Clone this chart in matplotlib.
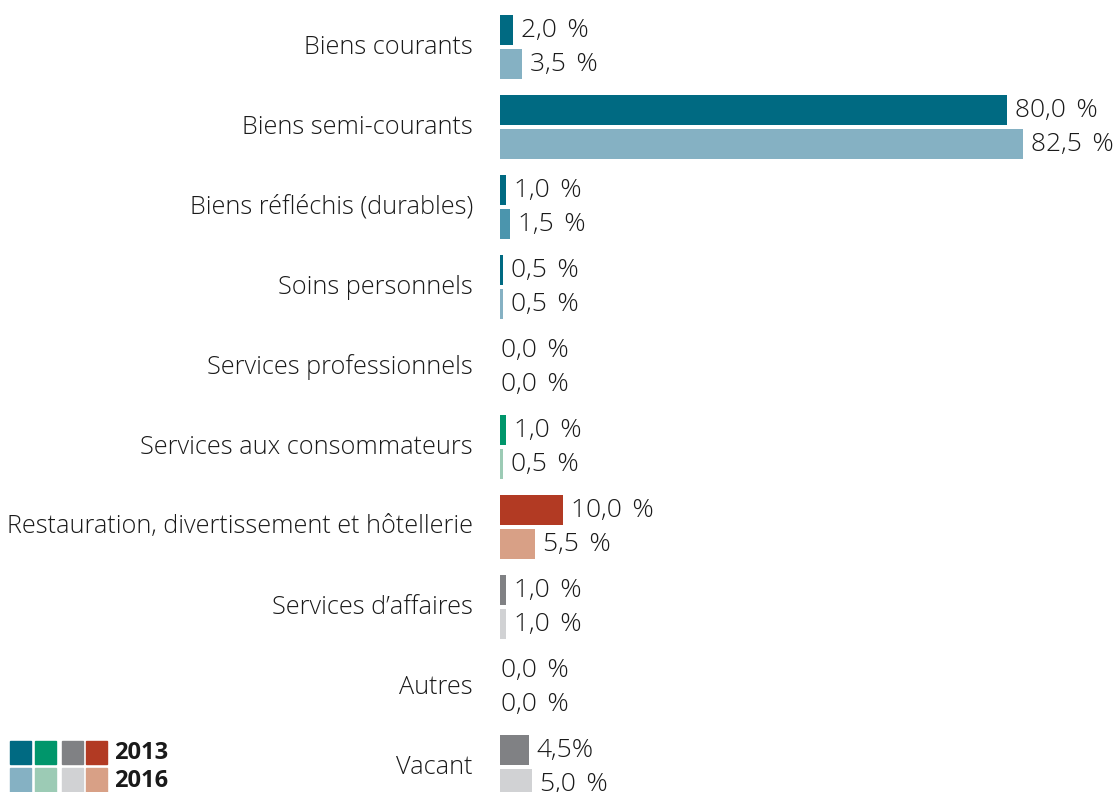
import matplotlib.pyplot as plt
from matplotlib.patches import Rectangle

plt.rcParams['font.family'] = ['Open Sans', 'DejaVu Sans']

# categories and values (% of retail space)
categories = ['Biens courants', 'Biens semi-courants', 'Biens réfléchis (durables)',
              'Soins personnels', 'Services professionnels', 'Services aux consommateurs',
              'Restauration, divertissement et hôtellerie', 'Services d\u2019affaires',
              'Autres', 'Vacant']
values_2013 = [2.0, 80.0, 1.0, 0.5, 0.0, 1.0, 10.0, 1.0, 0.0, 4.5]
values_2016 = [3.5, 82.5, 1.5, 0.5, 0.0, 0.5, 5.5, 1.0, 0.0, 5.0]
labels_2013 = ['2,0 %', '80,0 %', '1,0 %', '0,5 %', '0,0 %', '1,0 %', '10,0 %', '1,0 %', '0,0 %', '4,5%']
labels_2016 = ['3,5 %', '82,5 %', '1,5 %', '0,5 %', '0,0 %', '0,5 %', '5,5 %', '1,0 %', '0,0 %', '5,0 %']

# colour groups
dark = {'blue': '#006a82', 'green': '#00966b', 'grey': '#808184', 'red': '#b23a23'}
light = {'blue': '#85b1c3', 'green': '#9ccbb5', 'grey': '#d1d2d4', 'red': '#d8a086'}
groups = ['blue', 'blue', 'blue', 'blue', 'green', 'green', 'red', 'grey', 'grey', 'grey']
colors_2013 = [dark[g] for g in groups]
colors_2016 = [light[g] for g in groups]
colors_2016[2] = '#4b95ad'

W, H = 1119, 792
fig = plt.figure(figsize=(W / 100, H / 100), dpi=100)
ax = fig.add_axes([500 / W, 0, 619 / W, 1])

row = 80.0
y0 = 47.0
ax.set_xlim(0, 619 / 6.34)
ax.set_ylim((H - y0) / row, -y0 / row)
ax.axis('off')

off = 17 / row
bh = 30 / row
ypos = list(range(len(categories)))
ax.barh([y - off for y in ypos], values_2013, height=bh, color=colors_2013)
ax.barh([y + off for y in ypos], values_2016, height=bh, color=colors_2016)

txt = '#1a1a1a'
fs_val = 19
for i in ypos:
    for v, lab, dy in ((values_2013[i], labels_2013[i], -off), (values_2016[i], labels_2016[i], off)):
        pad = 8 if v > 0 else 1
        ax.annotate(lab.replace(' %', '\u2009\u2009%'), (v, i + dy), xytext=(pad, 0),
                    textcoords='offset pixels', ha='left', va='center',
                    fontsize=fs_val, fontweight='light', color=txt)
    ax.text(-27 / 6.34, i, categories[i], ha='right', va='center', fontsize=18.2,
            fontweight='light', color=txt, clip_on=False)

# legend squares
lx = [10, 35, 62, 86]
for k, g in enumerate(['blue', 'green', 'grey', 'red']):
    fig.patches.append(Rectangle((lx[k] / W, (H - 764) / H), 21 / W, 23 / H,
                                 transform=fig.transFigure, color=dark[g]))
    fig.patches.append(Rectangle((lx[k] / W, (H - 792) / H), 21 / W, 24 / H,
                                 transform=fig.transFigure, color=light[g]))
fig.text(114 / W, (H - 753) / H, '2013', fontsize=17, fontweight='bold', va='center', color=txt)
fig.text(114 / W, (H - 781) / H, '2016', fontsize=17, fontweight='bold', va='center', color=txt)

fig.savefig('out.png', dpi=100)
